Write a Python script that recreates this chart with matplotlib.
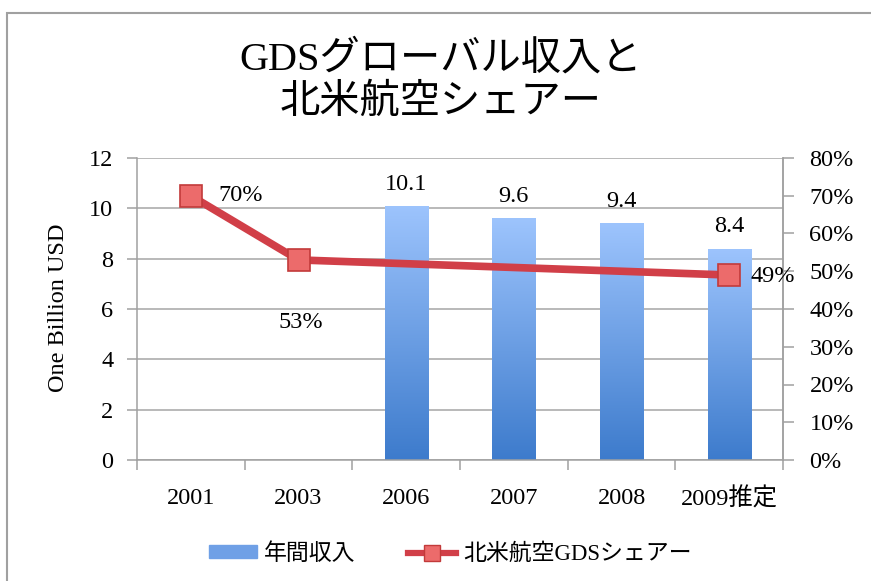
import numpy as np
import matplotlib
matplotlib.use("Agg")
import matplotlib.pyplot as plt
from matplotlib.colors import LinearSegmentedColormap
from matplotlib.patches import Rectangle
from matplotlib.lines import Line2D

plt.rcParams['font.family'] = ['Liberation Serif', 'Noto Sans CJK JP']

years = ['2001', '2003', '2006', '2007', '2008', '2009推定']
revenue = [np.nan, np.nan, 10.1, 9.6, 9.4, 8.4]
share = [70, 53, np.nan, np.nan, np.nan, 49]
share_labels = ['70%', '53%', '', '', '', '49%']

title = 'GDSグローバル収入と\n北米航空シェアー'
bar_name = '年間収入'
line_name = '北米航空GDSシェアー'

FS = 17.5
fig = plt.figure(figsize=(8.71, 5.81), dpi=100)
# outer chart border
fig.add_artist(Rectangle((7 / 871, -0.01), 1.0, 1 - 13 / 581 + 0.01, transform=fig.transFigure,
                         fill=False, edgecolor='#a0a0a0', lw=1.5))

ax = fig.add_axes([137 / 871, 1 - 460 / 581, 646 / 871, 302 / 581])
x = np.arange(len(years))
ax.set_yticks(range(0, 13, 2))
ax.grid(axis='y', color='#a6a6a6', lw=1.1)
ax.set_axisbelow(True)
ax.spines['top'].set_visible(False)
for s in ['left', 'bottom', 'right']:
    ax.spines[s].set_color('#a0a0a0')
    ax.spines[s].set_linewidth(1.1)
ax.tick_params(axis='y', colors='#a0a0a0', labelcolor='black', labelsize=FS, length=7, width=1.1, pad=10)
ax.set_xticks(x)
ax.set_xticklabels(years, fontsize=FS)
ax.tick_params(axis='x', length=0, pad=20)
ax.set_xticks(np.arange(-0.5, len(years)), minor=True)
ax.tick_params(axis='x', which='minor', length=7, width=1.1, color='#a0a0a0')
ax.set_ylabel('One Billion USD', fontsize=FS)
ax.yaxis.set_label_coords(-0.106, 0.505)

cmap = LinearSegmentedColormap.from_list('b', ['#3d7bcc', '#9dc4fd'])
grad = np.linspace(0, 1, 256).reshape(-1, 1)
bw = 0.4
bars = ax.bar(x, np.nan_to_num(revenue), width=bw, color='none', edgecolor='none')
for xi, v, b in zip(x, revenue, bars):
    if np.isnan(v):
        continue
    im = ax.imshow(grad, cmap=cmap, origin='lower', aspect='auto',
                   extent=(xi - bw / 2, xi + bw / 2, 0, v), zorder=2)
    im.set_clip_path(b)
    ax.annotate(f'{v:.1f}', (xi, v), xytext=(0, 8), textcoords='offset points',
                ha='center', va='bottom', fontsize=FS)
ax.set_xlim(-0.5, len(years) - 0.5)
ax.set_ylim(0, 12)

ax2 = ax.twinx()
ax2.set_ylim(0, 80)
ax2.set_yticks(range(0, 81, 10))
ax2.set_yticklabels([f'{v}%' for v in range(0, 81, 10)])
ax2.tick_params(axis='y', colors='#a0a0a0', labelcolor='black', labelsize=FS, length=8, width=1.1, pad=11)
for s in ['top', 'left', 'bottom']:
    ax2.spines[s].set_visible(False)
ax2.spines['right'].set_color('#a0a0a0')
ax2.spines['right'].set_linewidth(1.1)

sh = np.array(share, dtype=float)
m = ~np.isnan(sh)
ax2.plot(x[m], sh[m], color='#d13f48', lw=5.5, solid_capstyle='butt', zorder=3)
ax2.plot(x[m], sh[m], ls='none', marker='s', ms=16, mfc='#ec6b6b', mec='#c23a3a', mew=1.2, zorder=4)

ax2.annotate(share_labels[0], (x[0], sh[0]), xytext=(20, 0), textcoords='offset points',
             ha='left', va='center', fontsize=FS)
ax2.annotate(share_labels[1], (x[1], sh[1]), xytext=(2, -45), textcoords='offset points',
             ha='center', va='center', fontsize=FS)
ax2.annotate(share_labels[5], (x[5], sh[5]), xytext=(15, -1), textcoords='offset points',
             ha='left', va='center', fontsize=FS)

fig.text(441 / 871, 1 - 81 / 581, title, ha='center', va='center', fontsize=29, linespacing=1.22)

handles = [Rectangle((0, 0), 1, 1, color='#6fa0e6'),
           Line2D([], [], color='#d13f48', lw=4.5, marker='s', ms=12, mfc='#ec6b6b', mec='#c23a3a')]
fig.legend(handles, [bar_name, line_name], loc='center', bbox_to_anchor=(450 / 871, 1 - 554 / 581),
           ncol=2, frameon=False, fontsize=16.5, handlelength=2.1, handleheight=0.5,
           handletextpad=0.3, columnspacing=2.3)

fig.savefig('out.png', dpi=100)
